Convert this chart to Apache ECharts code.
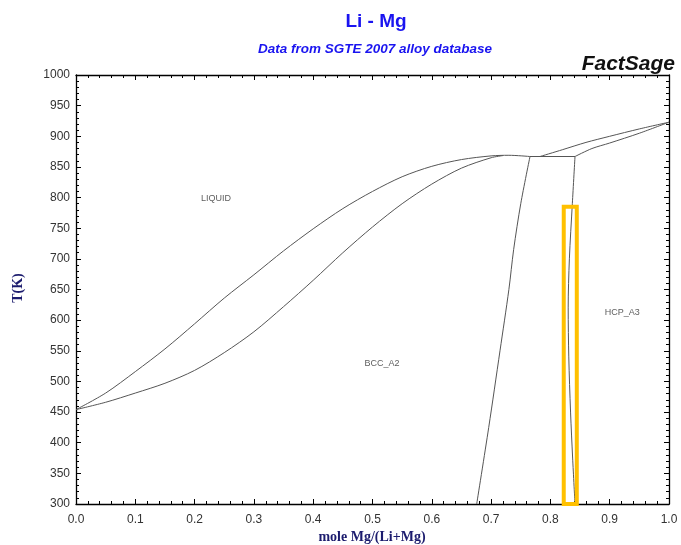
<!DOCTYPE html>
<html>
<head>
<meta charset="utf-8">
<script src="https://cdn.jsdelivr.net/npm/echarts@6/dist/echarts.min.js"></script>
<style>html,body{margin:0;padding:0;background:#fff}#c{width:681px;height:545px}</style>
</head>
<body>
<div id="c"></div>
<script>
// Liquid / BCC_A2 boundary (liquidus, Li side)
const liquidusLi = [[0.0,454],[0.05,481],[0.10,516],[0.15,553],[0.20,594],[0.25,636],[0.30,674],[0.35,713],[0.40,749],[0.45,782],[0.50,810],[0.55,834],[0.60,851],[0.65,862],[0.70,868],[0.73,869],[0.7656,867]];
// BCC_A2 / Liquid boundary (solidus, Li side)
const solidusLi = [[0.0,454],[0.05,466],[0.10,481],[0.15,497],[0.20,518],[0.25,547],[0.30,581],[0.35,622],[0.40,665],[0.45,710],[0.50,752],[0.55,790],[0.60,822],[0.65,848],[0.70,865],[0.72,868.5]];
// Invariant line
const eutectic = [[0.7656,867],[0.8415,867]];
// Liquid / HCP_A3 boundary (liquidus, Mg side)
const liquidusMg = [[0.7825,867],[0.82,878],[0.86,890],[0.90,900],[0.95,912],[1.0,923]];
// HCP_A3 / Liquid boundary (solidus, Mg side)
const solidusMg = [[0.8415,867],[0.87,880],[0.90,889],[0.95,905],[1.0,923]];
// BCC_A2 solvus
const solvusBcc = [[0.7656,867],[0.750,790],[0.738,715],[0.730,650],[0.715,550],[0.696,425],[0.6757,300]];
// HCP_A3 solvus
const solvusHcp = [[0.8415,867],[0.837,790],[0.832,700],[0.830,620],[0.831,540],[0.834,450],[0.8375,375],[0.8415,300]];
// Phase labels
const phaseLabels = [{name:'LIQUID', value:[0.236,799]},{name:'BCC_A2', value:[0.516,529]},{name:'HCP_A3', value:[0.921,612]}];
// Highlight box [xMin, xMax, Tmin, Tmax]
const highlightBox = [0.8225, 0.8445, 297, 785];
const xTicks = {min:0, max:1, interval:0.1};
const yTicks = {min:300, max:1000, interval:50};

const chart = echarts.init(document.getElementById('c'), null, {renderer:'canvas'});
const lineStyle = {color:'#555', width:1};
function curve(d, extra){
  return Object.assign({type:'line', data:d, showSymbol:false, symbol:'none', smooth:0.3, smoothMonotone:'none', lineStyle:lineStyle, silent:true, animation:false, z:3}, extra||{});
}
const axisCommon = {
  axisLine:{show:true, onZero:false, lineStyle:{color:'#000', width:1.3}},
  axisTick:{show:true, inside:true, length:5, lineStyle:{color:'#000', width:1}},
  minorTick:{show:true, splitNumber:5, length:3, lineStyle:{color:'#000', width:1}},
  splitLine:{show:false}
};
chart.setOption({
  animation:false,
  grid:{left:76, right:12, top:75, bottom:41, containLabel:false},
  xAxis:[
    Object.assign({type:'value', position:'bottom', min:xTicks.min, max:xTicks.max, interval:xTicks.interval,
      axisLabel:{color:'#333', fontFamily:'Liberation Sans, Arial', fontSize:12, margin:10, formatter:v=>v.toFixed(1)}}, axisCommon),
    Object.assign({type:'value', position:'top', min:xTicks.min, max:xTicks.max, interval:xTicks.interval,
      axisLabel:{show:false}}, axisCommon)
  ],
  yAxis:[
    Object.assign({type:'value', position:'left', min:yTicks.min, max:yTicks.max, interval:yTicks.interval,
      axisLabel:{color:'#333', fontFamily:'Liberation Sans, Arial', fontSize:12, margin:6, formatter:v=>String(v)}}, axisCommon),
    Object.assign({type:'value', position:'right', min:yTicks.min, max:yTicks.max, interval:yTicks.interval,
      axisLabel:{show:false}}, axisCommon)
  ],
  series:[
    curve(liquidusLi),
    curve(solidusLi),
    curve(eutectic, {smooth:false}),
    curve(liquidusMg),
    curve(solidusMg),
    curve(solvusBcc),
    curve(solvusHcp, {clip:false, markArea:{silent:true, z:5,
      itemStyle:{color:'rgba(0,0,0,0)', borderColor:'#FFC000', borderWidth:4},
      data:[[{coord:[highlightBox[0], highlightBox[3]]},{coord:[highlightBox[1], highlightBox[2]]}]]}}),
    {type:'scatter', data:phaseLabels, symbolSize:0, silent:true,
      label:{show:true, position:'inside', formatter:p=>p.name, color:'#333', fontFamily:'Liberation Sans, Arial', fontSize:9}}
  ],
  graphic:[
    {type:'text', x:376, y:22, style:{text:'Li - Mg', fill:'#1a14f0', font:'bold 19px "Liberation Sans", Arial', textAlign:'center', textVerticalAlign:'middle'}},
    {type:'text', x:375, y:49, style:{text:'Data from SGTE 2007 alloy database', fill:'#1a14f0', font:'italic bold 13.5px "Liberation Sans", Arial', textAlign:'center', textVerticalAlign:'middle'}},
    {type:'text', x:675, y:64, style:{text:'FactSage', fill:'#111', font:'italic bold 21px "Liberation Sans", Arial', textAlign:'right', textVerticalAlign:'middle'}},
    {type:'text', x:372, y:537, style:{text:'mole Mg/(Li+Mg)', fill:'#1c1c6e', font:'bold 14px "Liberation Serif", "Times New Roman", serif', textAlign:'center', textVerticalAlign:'middle'}},
    {type:'text', x:18, y:288, rotation:Math.PI/2, style:{text:'T(K)', fill:'#1c1c6e', font:'bold 14px "Liberation Serif", "Times New Roman", serif', textAlign:'center', textVerticalAlign:'middle'}}
  ]
});
</script>
</body>
</html>
